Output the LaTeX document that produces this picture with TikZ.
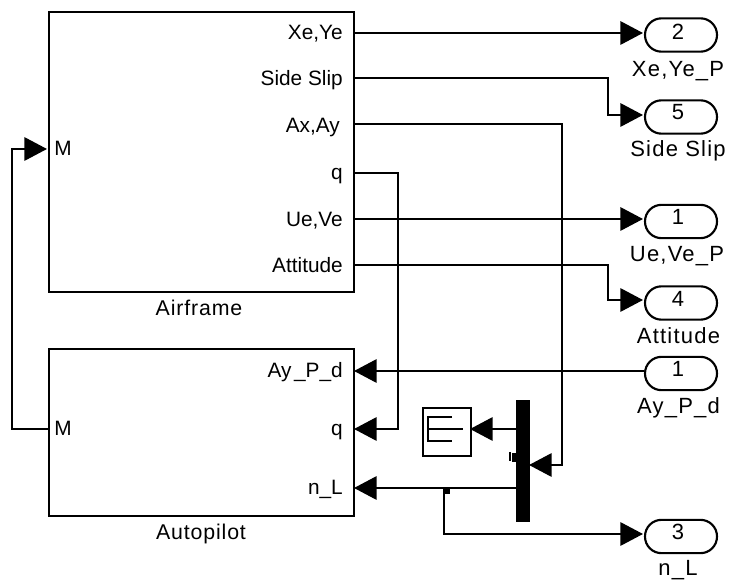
\documentclass[tikz,border=0pt]{standalone}
\usepackage{fontspec}
\setmainfont{Liberation Sans}
\newfontfamily\spacedf{Liberation Sans}[LetterSpace=5.5]
\newfontfamily\namef{Liberation Sans}[LetterSpace=4]
\usetikzlibrary{arrows.meta}
\tikzset{
  x=0.75pt,y=-0.75pt,
  wire/.style={line width=1.7pt,draw=black,line join=miter},
  arr/.style={wire,-{Triangle[length=17pt,width=17.5pt]}},
  block/.style={draw=black,line width=1.8pt,inner sep=0pt,minimum width=228.75pt,fill=none},
  outport/.style={draw=black,line width=1.6pt,inner sep=0pt,minimum width=54pt,minimum height=25pt,rounded corners=12.4pt},
  plabr/.style={inner sep=0pt,anchor=base east,yshift=-0.6pt,font=\fontsize{15.6}{18}\selectfont},
  plabl/.style={inner sep=0pt,anchor=base west,yshift=-0.6pt,font=\fontsize{15.6}{18}\selectfont},
  blab/.style={inner sep=0pt,anchor=base,yshift=-0.6pt,font=\fontsize{16}{18}\namef},
  olab/.style={inner sep=0pt,anchor=base,yshift=-0.6pt,font=\fontsize{16.5}{18}\spacedf},
  onum/.style={inner sep=0pt,anchor=base,yshift=-0.6pt,font=\fontsize{16.5}{18}\selectfont},
}
\begin{document}
\begin{tikzpicture}
\useasboundingbox (0,0) rectangle (731,580);
% blocks
\node[block,minimum height=210pt] (air) at (201.5,152) {};
\node[block,minimum height=125pt] (auto) at (201.5,432.5) {};
\node[blab] (airlab) at (199,315) {Airframe};
\node[blab] (autolab) at (201,539) {Autopilot};
% ports
\coordinate (aXe) at (354,33);
\coordinate (aSS) at (354,78);
\coordinate (aAx) at (354,124);
\coordinate (aQ) at (354,173);
\coordinate (aUe) at (354,219);
\coordinate (aAt) at (354,265);
\coordinate (aM) at (47,149);
\coordinate (pM) at (49,429);
\coordinate (pAy) at (354,371);
\coordinate (pQ) at (354,429);
\coordinate (pN) at (354,488);
\node[plabr] (lXe) at (343,39) {Xe,Ye};
\node[plabr] (lSS) at (343,85) {Side Slip};
\node[plabr] (lAx) at (340,132) {Ax,Ay};
\node[plabr] (lQ) at (343,179) {q};
\node[plabr] (lUe) at (343,226) {Ue,Ve};
\node[plabr] (lAt) at (343,272) {Attitude};
\node[plabl] (lM) at (54,155) {M};
\node[plabr] (lAy2) at (343,377) {Ay\kern2pt\_P\_d};
\node[plabr] (lQ2) at (343,435) {q};
\node[plabr] (lN2) at (343,494) {n\_L};
\node[plabl] (lM2) at (54,435) {M};
% outports
\node[outport] (o2) at (681,35) {};
\node[onum] at (678,38.5) {2};
\node[outport] (o5) at (681,117) {};
\node[onum] at (678,118.5) {5};
\node[outport] (o1) at (681,221.5) {};
\node[onum] at (678,224) {1};
\node[outport] (o4) at (681,303) {};
\node[onum] at (678,306) {4};
\node[outport] (i1) at (681,373.5) {};
\node[onum] at (678,375.5) {1};
\node[outport] (o3) at (681,536.5) {};
\node[onum] at (678,539) {3};
\node[olab] (lo2) at (678,76) {Xe,Ye\_P};
\node[olab] (lo5) at (678,156) {Side Slip};
\node[olab] (lo1) at (677,261) {Ue,Ve\_P};
\node[olab] (lo4) at (678.5,343) {Attitude};
\node[olab] (li1) at (678.5,413) {Ay\_P\_d};
\node[olab] (lo3) at (678,575) {n\_L};
% mux and scope
\node[fill=black,inner sep=0pt,minimum width=10.5pt,minimum height=91pt] (mux) at (523,461) {};
\node[draw=black,line width=1.3pt,inner sep=0pt,minimum width=36pt,minimum height=36pt] (scope) at (447,432) {};
\draw[line width=1.2pt] (452,417) -- (428,417) -- (428,441) -- (452,441) (428,429) -- (463,429);
\fill[black] (512,453) rectangle (516,462);
\fill[black] (509,452) rectangle (510.5,461);
% junctions and bends
\coordinate (b5) at (608,115);
\coordinate (b4) at (608,300);
\coordinate (bAx) at (562,465);
\coordinate (bQ) at (398,429);
\coordinate (bM) at (12,429);
\coordinate (mIn) at (529,465);
\coordinate (mOutA) at (516,429);
\coordinate (mOutB) at (516,488);
\coordinate (jn) at (444,488);
\coordinate (b3) at (444,534);
\coordinate (bMu) at (12,149);
\coordinate (t2) at (643,33);
\coordinate (t5) at (643,115);
\coordinate (t1) at (643,219);
\coordinate (t4) at (643,300);
\coordinate (t3) at (643,534);
\coordinate (sI) at (470,429);
% wires
\draw[arr] (aXe) -- (t2);
\draw[arr] (aSS) -| (b5) -- (t5);
\draw[arr] (aUe) -- (t1);
\draw[arr] (aAt) -| (b4) -- (t4);
\draw[arr] (aAx) -| (bAx) -- (mIn);
\draw[arr] (aQ) -| (bQ) -- (pQ);
\draw[arr] (i1.west |- pAy) -- (pAy);
\draw[arr] (pM) -- (bM) -- (bMu) -- (aM);
\draw[arr] (mOutA) -- (sI);
\draw[arr] (mOutB) -- (pN);
\draw[arr] (jn) -- (b3) -- (t3);
\fill[black] (444,487) rectangle (450,494);
\end{tikzpicture}
\end{document}
